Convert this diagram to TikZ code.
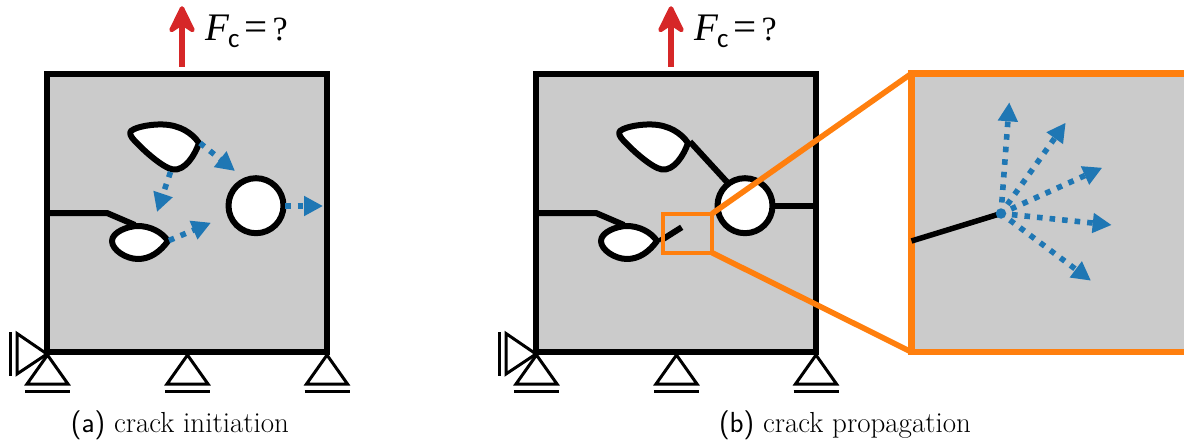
\documentclass[tikz,border=0pt]{standalone}
\usepackage{fontspec}
\usetikzlibrary{arrows.meta}
\newfontfamily\serfam{Liberation Serif}
\newfontfamily\calfam{Carlito}
\definecolor{pgray}{HTML}{CBCBCB}
\definecolor{pblue}{HTML}{1F77B4}
\definecolor{pred}{HTML}{D62728}
\definecolor{porange}{HTML}{FF7F0E}
\tikzset{
  plate/.style={draw=black,fill=pgray,line width=6pt,line join=miter},
  hole/.style={draw=black,fill=white,line width=6pt,line join=round},
  crack/.style={draw=black,line width=6pt,line join=round},
  bluearrow/.style={draw=pblue,line width=5.6pt,dash pattern=on 5.6pt off 7pt,
     -{Triangle[length=19pt,width=19pt,fill=pblue]}},
  redhead/.style={draw=pred,fill=pred,line width=4.5pt,line join=round},
  support/.style={draw=black,line width=3pt,line join=miter},
  zoomline/.style={draw=porange,line width=5.6pt},
  caption/.style={anchor=base,inner sep=0pt,font=\fontsize{29}{31}\selectfont},
  forcelabel/.style={anchor=base west,inner sep=0pt}
}
\newcommand{\forcelabeltext}{{\fontsize{39}{40}\selectfont\serfam\itshape F}\kern-1pt\raisebox{-7pt}{\fontsize{27}{28}\selectfont\calfam c}\kern5pt{\fontsize{41}{42}\selectfont\serfam =}\kern5pt{\fontsize{34}{36}\selectfont\serfam ?}}
\newcommand{\specimen}[1]{%
  \begin{scope}[xshift=#1pt]
    \draw[plate] (47,74) rectangle (327,352);
    \foreach \sx/\sn in {47.5/a,187.5/b,327/c}{
      \draw[support] (\sx,355) -- (\sx-20.5,384) -- (\sx+20.5,384) -- cycle;
      \draw[support] (\sx-22.5,391) -- (\sx+22.5,391);
    }
    \draw[support] (47,354) -- (17,333.5) -- (17,374) -- cycle;
    \draw[support] (10.7,332) -- (10.7,376);
    \draw[draw=pred,line width=6.5pt] (182,67) -- (182,20);
    \fill[redhead] (182,8.5) -- (171.5,30) -- (182,23) -- (192.5,30) -- cycle;
    \node[forcelabel] at (205,41) {\forcelabeltext};
  \end{scope}%
}
\newcommand{\holes}[1]{%
  \begin{scope}[xshift=#1pt]
    \draw[hole] (131,131) .. controls (137,126) and (155,124) .. (163,124.5)
       .. controls (180,125) and (192,133) .. (199,143)
       .. controls (195,155) and (185,171) .. (173,169.5)
       .. controls (163,168) and (143,150) .. (134,140)
       .. controls (131,137) and (129,133) .. (131,131) -- cycle;
    \draw[hole] (112,241) .. controls (112,232) and (128,226) .. (138,226)
       .. controls (150,226) and (162,232) .. (168,241)
       .. controls (160,252) and (150,259) .. (138,259)
       .. controls (126,259) and (112,250) .. (112,241) -- cycle;
    \draw[hole] (256,205.7) circle (27.5);
    \draw[crack] (47,213) -- (107,213) -- (135,225);
  \end{scope}%
}
\begin{document}
\begin{tikzpicture}[x=1pt,y=-1pt]
\useasboundingbox (0,0) rectangle (1184,441);
\specimen{0}
\specimen{489}
\holes{0}
\coordinate (a1s) at (200,143); \coordinate (a1e) at (235,171);
\coordinate (a2s) at (170.5,172); \coordinate (a2e) at (157,212);
\coordinate (a3s) at (169,240.5); \coordinate (a3e) at (211,222.7);
\coordinate (a4s) at (285,206); \coordinate (a4e) at (323,206);
\draw[bluearrow] (a1s) -- (a1e);
\draw[bluearrow] (a2s) -- (a2e);
\draw[bluearrow] (a3s) -- (a3e);
\draw[bluearrow] (a4s) -- (a4e);
\coordinate (t1) at (690,141.7); \coordinate (t2) at (726.7,181.7);
\coordinate (r1) at (775,205.7); \coordinate (r2) at (816,205.7);
\coordinate (s1) at (660,241); \coordinate (s2) at (681.7,227.3);
\draw[crack] (t1) -- (t2);
\draw[crack] (r1) -- (r2);
\draw[crack] (s1) -- (s2);
\holes{489}
\coordinate (bTR) at (712,213.7); \coordinate (bBR) at (712,252.7);
\coordinate (zTL) at (911.5,73.5); \coordinate (zBL) at (911.5,352);
\draw[zoomline] (bTR) -- (zTL);
\draw[zoomline] (bBR) -- (zBL);
\draw[draw=porange,line width=4pt] (662.7,213.7) rectangle (712,252.7);
\fill[pgray] (911.5,73.5) rectangle (1184,352);
\draw[draw=porange,line width=6.5pt] (1186,73.5) -- (zTL) -- (zBL) -- (1186,352);
\coordinate (ztip) at (1001,213.5); \coordinate (zst) at (911.5,241);
\draw[draw=black,line width=5.5pt] (zst) -- (ztip);
\node[circle,fill=pblue,inner sep=0pt,minimum size=10.5pt] (zdot) at (ztip) {};
\foreach \ex/\ey/\nm in {1009.3/102.3/p,1065.7/122.7/q,1102.3/167.7/r,1111.7/225/s,1091/280.7/t}{
  \coordinate (z\nm) at (\ex,\ey);
  \draw[bluearrow,shorten <=11pt] (ztip) -- (z\nm);
}
\node[caption] (capa) at (180,432) {{\sffamily (a)} crack initiation};
\node[caption] (capb) at (845,432) {{\sffamily (b)} crack propagation};
\end{tikzpicture}
\end{document}
